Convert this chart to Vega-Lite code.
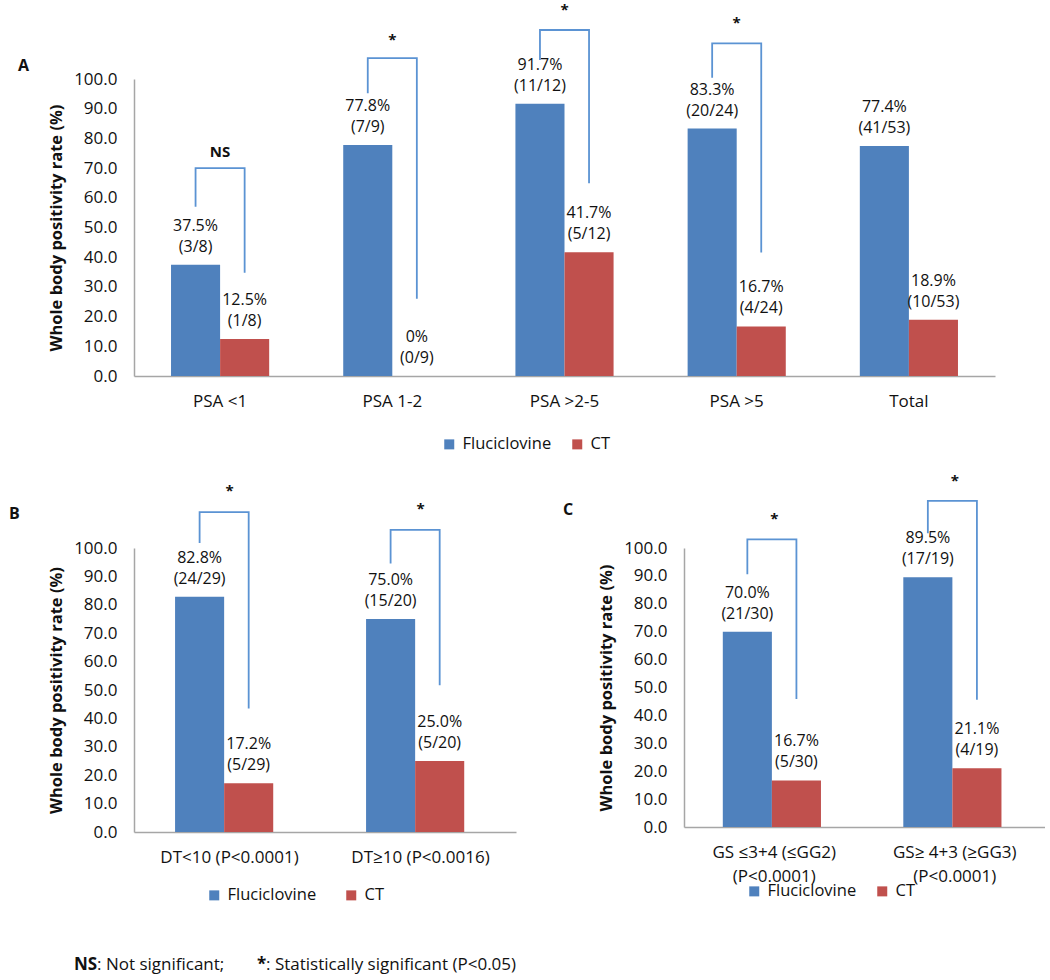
{
  "$schema": "https://vega.github.io/schema/vega-lite/v6.json",
  "padding": {"left": 9, "top": 2, "right": 0, "bottom": 0},
  "background": "white",
  "bounds": "flush",
  "spacing": 172,
  "resolve": {"legend": {"color": "independent"}, "scale": {"color": "independent"}},
  "datasets": {
    "aBars": [
      {"cat": "PSA <1", "series": "Fluciclovine", "value": 37.5, "label": "37.5%\n(3/8)"},
      {"cat": "PSA <1", "series": "CT", "value": 12.5, "label": "12.5%\n(1/8)"},
      {"cat": "PSA 1-2", "series": "Fluciclovine", "value": 77.8, "label": "77.8%\n(7/9)"},
      {"cat": "PSA 1-2", "series": "CT", "value": 0, "label": "0%\n(0/9)"},
      {"cat": "PSA >2-5", "series": "Fluciclovine", "value": 91.7, "label": "91.7%\n(11/12)"},
      {"cat": "PSA >2-5", "series": "CT", "value": 41.7, "label": "41.7%\n(5/12)"},
      {"cat": "PSA >5", "series": "Fluciclovine", "value": 83.3, "label": "83.3%\n(20/24)"},
      {"cat": "PSA >5", "series": "CT", "value": 16.7, "label": "16.7%\n(4/24)"},
      {"cat": "Total", "series": "Fluciclovine", "value": 77.4, "label": "77.4%\n(41/53)"},
      {"cat": "Total", "series": "CT", "value": 18.9, "label": "18.9%\n(10/53)"}
    ],
    "aBr": [
      {"cat": "PSA <1", "series": "Fluciclovine", "y": 57, "ord": 1},
      {"cat": "PSA <1", "series": "Fluciclovine", "y": 70, "ord": 2},
      {"cat": "PSA <1", "series": "CT", "y": 70, "ord": 3},
      {"cat": "PSA <1", "series": "CT", "y": 34.8, "ord": 4},
      {"cat": "PSA 1-2", "series": "Fluciclovine", "y": 95.2, "ord": 1},
      {"cat": "PSA 1-2", "series": "Fluciclovine", "y": 107, "ord": 2},
      {"cat": "PSA 1-2", "series": "CT", "y": 107, "ord": 3},
      {"cat": "PSA 1-2", "series": "CT", "y": 26, "ord": 4},
      {"cat": "PSA >2-5", "series": "Fluciclovine", "y": 106.4, "ord": 1},
      {"cat": "PSA >2-5", "series": "Fluciclovine", "y": 116.5, "ord": 2},
      {"cat": "PSA >2-5", "series": "CT", "y": 116.5, "ord": 3},
      {"cat": "PSA >2-5", "series": "CT", "y": 64.9, "ord": 4},
      {"cat": "PSA >5", "series": "Fluciclovine", "y": 100.4, "ord": 1},
      {"cat": "PSA >5", "series": "Fluciclovine", "y": 112, "ord": 2},
      {"cat": "PSA >5", "series": "CT", "y": 112, "ord": 3},
      {"cat": "PSA >5", "series": "CT", "y": 41.6, "ord": 4}
    ],
    "aSig": [
      {"cat": "PSA <1", "y": 75.5, "sig": "NS"},
      {"cat": "PSA 1-2", "y": 113, "sig": "*"},
      {"cat": "PSA >2-5", "y": 123.3, "sig": "*"},
      {"cat": "PSA >5", "y": 118.9, "sig": "*"}
    ],
    "bBars": [
      {"cat": "DT<10 (P<0.0001)", "series": "Fluciclovine", "value": 82.8, "label": "82.8%\n(24/29)"},
      {"cat": "DT<10 (P<0.0001)", "series": "CT", "value": 17.2, "label": "17.2%\n(5/29)"},
      {"cat": "DT≥10  (P<0.0016)", "series": "Fluciclovine", "value": 75.0, "label": "75.0%\n(15/20)"},
      {"cat": "DT≥10  (P<0.0016)", "series": "CT", "value": 25.0, "label": "25.0%\n(5/20)"}
    ],
    "bBr": [
      {"cat": "DT<10 (P<0.0001)", "series": "Fluciclovine", "y": 101.8, "ord": 1},
      {"cat": "DT<10 (P<0.0001)", "series": "Fluciclovine", "y": 112.6, "ord": 2},
      {"cat": "DT<10 (P<0.0001)", "series": "CT", "y": 112.6, "ord": 3},
      {"cat": "DT<10 (P<0.0001)", "series": "CT", "y": 43.5, "ord": 4},
      {"cat": "DT≥10  (P<0.0016)", "series": "Fluciclovine", "y": 94.5, "ord": 1},
      {"cat": "DT≥10  (P<0.0016)", "series": "Fluciclovine", "y": 106.4, "ord": 2},
      {"cat": "DT≥10  (P<0.0016)", "series": "CT", "y": 106.4, "ord": 3},
      {"cat": "DT≥10  (P<0.0016)", "series": "CT", "y": 51.7, "ord": 4}
    ],
    "bSig": [
      {"cat": "DT<10 (P<0.0001)", "y": 120, "sig": "*"},
      {"cat": "DT≥10  (P<0.0016)", "y": 113.6, "sig": "*"}
    ],
    "cBars": [
      {"cat": "GS ≤3+4 (≤GG2)\n(P<0.0001)", "series": "Fluciclovine", "value": 70.0, "label": "70.0%\n(21/30)"},
      {"cat": "GS ≤3+4 (≤GG2)\n(P<0.0001)", "series": "CT", "value": 16.7, "label": "16.7%\n(5/30)"},
      {"cat": "GS≥ 4+3 (≥GG3)\n(P<0.0001)", "series": "Fluciclovine", "value": 89.5, "label": "89.5%\n(17/19)"},
      {"cat": "GS≥ 4+3 (≥GG3)\n(P<0.0001)", "series": "CT", "value": 21.1, "label": "21.1%\n(4/19)"}
    ],
    "cBr": [
      {"cat": "GS ≤3+4 (≤GG2)\n(P<0.0001)", "series": "Fluciclovine", "y": 90.6, "ord": 1},
      {"cat": "GS ≤3+4 (≤GG2)\n(P<0.0001)", "series": "Fluciclovine", "y": 103.1, "ord": 2},
      {"cat": "GS ≤3+4 (≤GG2)\n(P<0.0001)", "series": "CT", "y": 103.1, "ord": 3},
      {"cat": "GS ≤3+4 (≤GG2)\n(P<0.0001)", "series": "CT", "y": 45.9, "ord": 4},
      {"cat": "GS≥ 4+3 (≥GG3)\n(P<0.0001)", "series": "Fluciclovine", "y": 105.3, "ord": 1},
      {"cat": "GS≥ 4+3 (≥GG3)\n(P<0.0001)", "series": "Fluciclovine", "y": 116.9, "ord": 2},
      {"cat": "GS≥ 4+3 (≥GG3)\n(P<0.0001)", "series": "CT", "y": 116.9, "ord": 3},
      {"cat": "GS≥ 4+3 (≥GG3)\n(P<0.0001)", "series": "CT", "y": 45.6, "ord": 4}
    ],
    "cSig": [
      {"cat": "GS ≤3+4 (≤GG2)\n(P<0.0001)", "y": 110.3, "sig": "*"},
      {"cat": "GS≥ 4+3 (≥GG3)\n(P<0.0001)", "y": 124.1, "sig": "*"}
    ],
    "note": [
      {"ns": "NS", "nsText": ": Not significant;", "star": "*", "starText": ": Statistically significant (P<0.05)"}
    ]
  },
  "vconcat": [
    {
      "width": 861,
      "height": 297,
      "title": {"text": "A", "dx": -116, "dy": 75},
      "layer": [
        {
          "data": {"name": "aBars"},
          "mark": {"type": "bar"},
          "encoding": {
            "x": {"field": "cat", "type": "nominal", "sort": null,
              "scale": {"domain": ["PSA <1", "PSA 1-2", "PSA >2-5", "PSA >5", "Total"], "paddingInner": 0.43, "paddingOuter": 0.215},
              "axis": {"title": null}},
            "xOffset": {"field": "series", "type": "nominal", "scale": {"domain": ["Fluciclovine", "CT"], "paddingInner": 0, "paddingOuter": 0}},
            "y": {"field": "value", "type": "quantitative", "scale": {"domain": [0, 100]},
              "axis": {"title": "Whole body positivity rate (%)", "values": [0, 10, 20, 30, 40, 50, 60, 70, 80, 90, 100], "tickCount": 11, "labelOverlap": false, "format": ".1f"}},
            "color": {"field": "series", "type": "nominal",
              "scale": {"domain": ["Fluciclovine", "CT"], "range": ["#4f81bd", "#c0504d"]},
              "legend": {"title": null, "legendX": 307, "legendY": 357, "columnPadding": 17}}
          }
        },
        {
          "data": {"name": "aBars"},
          "mark": {"type": "text", "baseline": "bottom", "dy": -31, "lineBreak": "\n", "lineHeight": 21, "fontSize": 16, "color": "#111"},
          "encoding": {
            "x": {"field": "cat", "type": "nominal", "sort": null},
            "xOffset": {"field": "series", "type": "nominal"},
            "y": {"field": "value", "type": "quantitative"},
            "text": {"field": "label"}
          }
        },
        {
          "data": {"name": "aBr"},
          "mark": {"type": "line", "color": "#5b93d3", "strokeWidth": 1.8},
          "encoding": {
            "x": {"field": "cat", "type": "nominal", "sort": null},
            "xOffset": {"field": "series", "type": "nominal"},
            "y": {"field": "y", "type": "quantitative"},
            "detail": {"field": "cat"},
            "order": {"field": "ord"}
          }
        },
        {
          "data": {"name": "aSig"},
          "mark": {"type": "text", "fontWeight": "bold", "fontSize": 15, "color": "#111"},
          "encoding": {
            "x": {"field": "cat", "type": "nominal", "sort": null},
            "y": {"field": "y", "type": "quantitative"},
            "text": {"field": "sig"}
          }
        }
      ]
    },
    {
      "spacing": 407,
      "bounds": "flush",
      "resolve": {"legend": {"color": "independent"}, "scale": {"color": "independent"}},
      "vconcat": [
        {
          "spacing": 168,
          "bounds": "flush",
          "resolve": {"legend": {"color": "independent"}, "scale": {"color": "independent"}},
          "hconcat": [
            {
              "width": 382,
              "height": 284,
              "title": {"text": "B", "dx": -125, "dy": 42},
              "layer": [
                {
                  "data": {"name": "bBars"},
                  "mark": {"type": "bar"},
                  "encoding": {
                    "x": {"field": "cat", "type": "nominal", "sort": null,
                      "scale": {"paddingInner": 0.43, "paddingOuter": 0.215},
                      "axis": {"title": null}},
                    "xOffset": {"field": "series", "type": "nominal", "scale": {"domain": ["Fluciclovine", "CT"], "paddingInner": 0, "paddingOuter": 0}},
                    "y": {"field": "value", "type": "quantitative", "scale": {"domain": [0, 100]},
                      "axis": {"title": "Whole body positivity rate (%)", "values": [0, 10, 20, 30, 40, 50, 60, 70, 80, 90, 100], "tickCount": 11, "labelOverlap": false, "format": ".1f"}},
                    "color": {"field": "series", "type": "nominal",
                      "scale": {"domain": ["Fluciclovine", "CT"], "range": ["#4f81bd", "#c0504d"]},
                      "legend": {"title": null, "legendX": 72, "legendY": 339, "columnPadding": 26}}
                  }
                },
                {
                  "data": {"name": "bBars"},
                  "mark": {"type": "text", "baseline": "bottom", "dy": -31, "lineBreak": "\n", "lineHeight": 21, "fontSize": 16, "color": "#111"},
                  "encoding": {
                    "x": {"field": "cat", "type": "nominal", "sort": null},
                    "xOffset": {"field": "series", "type": "nominal"},
                    "y": {"field": "value", "type": "quantitative"},
                    "text": {"field": "label"}
                  }
                },
                {
                  "data": {"name": "bBr"},
                  "mark": {"type": "line", "color": "#5b93d3", "strokeWidth": 1.8},
                  "encoding": {
                    "x": {"field": "cat", "type": "nominal", "sort": null},
                    "xOffset": {"field": "series", "type": "nominal"},
                    "y": {"field": "y", "type": "quantitative"},
                    "detail": {"field": "cat"},
                    "order": {"field": "ord"}
                  }
                },
                {
                  "data": {"name": "bSig"},
                  "mark": {"type": "text", "fontWeight": "bold", "fontSize": 15, "color": "#111"},
                  "encoding": {
                    "x": {"field": "cat", "type": "nominal", "sort": null},
                    "y": {"field": "y", "type": "quantitative"},
                    "text": {"field": "sig"}
                  }
                }
              ]
            },
            {
              "width": 361,
              "height": 279,
              "title": {"text": "C", "dx": -121, "dy": 48},
              "layer": [
                {
                  "data": {"name": "cBars"},
                  "mark": {"type": "bar"},
                  "encoding": {
                    "x": {"field": "cat", "type": "nominal", "sort": null,
                      "scale": {"paddingInner": 0.43, "paddingOuter": 0.215},
                      "axis": {"title": null, "labelExpr": "split(datum.label, '\\n')", "labelLineHeight": 24}},
                    "xOffset": {"field": "series", "type": "nominal", "scale": {"domain": ["Fluciclovine", "CT"], "paddingInner": 0, "paddingOuter": 0}},
                    "y": {"field": "value", "type": "quantitative", "scale": {"domain": [0, 100]},
                      "axis": {"title": "Whole body positivity rate (%)", "values": [0, 10, 20, 30, 40, 50, 60, 70, 80, 90, 100], "tickCount": 11, "labelOverlap": false, "format": ".1f"}},
                    "color": {"field": "series", "type": "nominal",
                      "scale": {"domain": ["Fluciclovine", "CT"], "range": ["#4f81bd", "#c0504d"]},
                      "legend": {"title": null, "legendX": 62, "legendY": 335, "columnPadding": 17}}
                  }
                },
                {
                  "data": {"name": "cBars"},
                  "mark": {"type": "text", "baseline": "bottom", "dy": -31, "lineBreak": "\n", "lineHeight": 21, "fontSize": 16, "color": "#111"},
                  "encoding": {
                    "x": {"field": "cat", "type": "nominal", "sort": null},
                    "xOffset": {"field": "series", "type": "nominal"},
                    "y": {"field": "value", "type": "quantitative"},
                    "text": {"field": "label"}
                  }
                },
                {
                  "data": {"name": "cBr"},
                  "mark": {"type": "line", "color": "#5b93d3", "strokeWidth": 1.8},
                  "encoding": {
                    "x": {"field": "cat", "type": "nominal", "sort": null},
                    "xOffset": {"field": "series", "type": "nominal"},
                    "y": {"field": "y", "type": "quantitative"},
                    "detail": {"field": "cat"},
                    "order": {"field": "ord"}
                  }
                },
                {
                  "data": {"name": "cSig"},
                  "mark": {"type": "text", "fontWeight": "bold", "fontSize": 15, "color": "#111"},
                  "encoding": {
                    "x": {"field": "cat", "type": "nominal", "sort": null},
                    "y": {"field": "y", "type": "quantitative"},
                    "text": {"field": "sig"}
                  }
                }
              ]
            }
          ]
        },
        {
          "width": 2,
          "height": 20,
          "data": {"name": "note"},
          "layer": [
            {"mark": {"type": "text", "align": "left", "fontWeight": "bold", "fontSize": 17, "dx": -61, "color": "#111"}, "encoding": {"text": {"field": "ns"}}},
            {"mark": {"type": "text", "align": "left", "fontSize": 17, "dx": -38, "color": "#111"}, "encoding": {"text": {"field": "nsText"}}},
            {"mark": {"type": "text", "align": "left", "fontWeight": "bold", "fontSize": 17, "dx": 122, "color": "#111"}, "encoding": {"text": {"field": "star"}}},
            {"mark": {"type": "text", "align": "left", "fontSize": 17, "dx": 131, "color": "#111"}, "encoding": {"text": {"field": "starText"}}}
          ]
        }
      ]
    }
  ],
  "config": {
    "font": "Open Sans",
    "view": {"stroke": null},
    "axis": {"domainColor": "#a6a6a6", "domainWidth": 1.5, "ticks": false, "grid": false, "labelColor": "#111", "titleColor": "#111", "labelFontSize": 17, "labelFont": "Open Sans", "titleFont": "Open Sans"},
    "axisX": {"labelAngle": 0, "labelPadding": 17, "labelLimit": 300},
    "axisY": {"labelPadding": 17, "titleFontSize": 16.5, "titleFontWeight": "bold", "titlePadding": 9},
    "legend": {"orient": "none", "direction": "horizontal", "symbolType": "square", "symbolSize": 100, "labelFontSize": 16.5, "labelColor": "#111", "labelFont": "Open Sans", "padding": 0, "labelOffset": 5, "symbolStrokeWidth": 0},
    "title": {"fontSize": 16, "fontWeight": "bold", "anchor": "start", "frame": "group", "color": "#111", "font": "Open Sans"}
  }
}
